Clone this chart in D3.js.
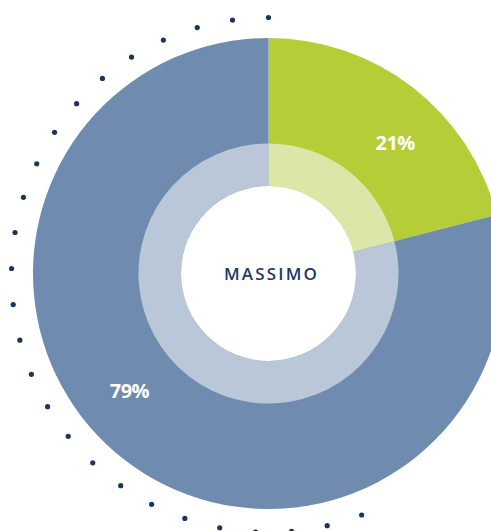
<!DOCTYPE html>
<html>
<head>
<meta charset="utf-8">
<script src="https://cdn.jsdelivr.net/npm/d3@7"></script>
<style>
  body { margin: 0; background: #fff; overflow: hidden; }
  svg { display: block; }
</style>
</head>
<body>
<div id="canvas"></div>
<script>
// data
const categories = ["Other", "Massimo"];
const values = [79, 21];          // percent
const labels = ["79%", "21%"];
const centerLabel = "MASSIMO";

const width = 491, height = 531;
const cx = 268.5, cy = 273.5;

const outerColors = {Massimo: "#b5cd36", Other: "#6f8cb0"};
const innerColors = {Massimo: "#dce6a8", Other: "#b9c7d9"};

const svg = d3.select("#canvas").append("svg")
    .attr("width", width)
    .attr("height", height);

const g = svg.append("g").attr("transform", `translate(${cx},${cy})`);

// green slice starts at 12 o'clock, blue takes the rest
const pie = d3.pie().sort(null).value(d => d.value)
    .startAngle(0).endAngle(2 * Math.PI);
const data = categories.map((c, i) => ({cat: c, value: values[i], label: labels[i]}))
    .reverse(); // Massimo first
const arcs = pie(data);

const outerArc = d3.arc().innerRadius(0).outerRadius(235.5);
const innerArc = d3.arc().innerRadius(87.5).outerRadius(130);

g.selectAll("path.outer").data(arcs).join("path")
    .attr("class", "outer")
    .attr("d", outerArc)
    .attr("fill", d => outerColors[d.data.cat]);

g.selectAll("path.inner").data(arcs).join("path")
    .attr("class", "inner")
    .attr("d", innerArc)
    .attr("fill", d => innerColors[d.data.cat]);

g.append("circle").attr("r", 87.5).attr("fill", "#fff");

// dotted guide on the left side
const dotStep = 8.05 * Math.PI / 180;
const dots = d3.range(0, 26).map(i => -i * dotStep);
g.selectAll("circle.dot").data(dots).join("circle")
    .attr("class", "dot")
    .attr("cx", a => 257 * Math.sin(a))
    .attr("cy", a => -256 * Math.cos(a) + (1 - Math.cos(a)) * 1.5)
    .attr("r", 2.6)
    .attr("fill", "#1a3560");

// percent labels, shifted a bit clockwise from slice centre
const labelArc = d3.arc().innerRadius(182).outerRadius(182);
g.selectAll("text.pct").data(arcs).join("text")
    .attr("class", "pct")
    .attr("transform", d => {
        const mid = (d.startAngle + d.endAngle) / 2 + (d.data.cat === "Massimo" ? 0.11 : 0.21);
        const c = labelArc.centroid({startAngle: mid, endAngle: mid});
        return `translate(${c[0]},${c[1]})`;
    })
    .attr("text-anchor", "middle")
    .attr("dy", "0.35em")
    .attr("fill", "#fff")
    .attr("font-family", "'Open Sans', sans-serif")
    .attr("font-weight", 700)
    .attr("font-size", 20)
    .attr("letter-spacing", -0.5)
    .text(d => d.data.label);

g.append("text")
    .attr("x", 3)
    .attr("y", 1)
    .attr("text-anchor", "middle")
    .attr("dy", "0.35em")
    .attr("fill", "#1d3a66")
    .attr("font-family", "'Open Sans', sans-serif")
    .attr("font-weight", 600)
    .attr("font-size", 17)
    .attr("letter-spacing", 2.2)
    .text(centerLabel);
</script>
</body>
</html>
